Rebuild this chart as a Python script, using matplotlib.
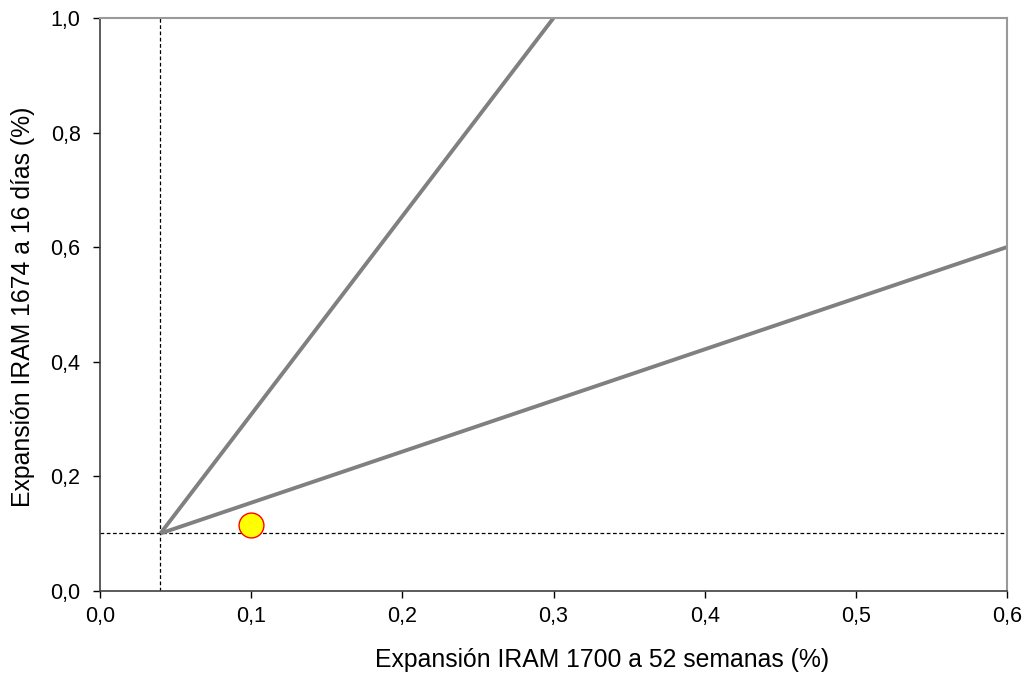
"""Expansión IRAM 1700 vs IRAM 1674 chart."""

import matplotlib

matplotlib.use("Agg")
import matplotlib.pyplot as plt
from matplotlib.ticker import FuncFormatter

plt.rcParams["font.family"] = ["Liberation Sans", "DejaVu Sans"]

# limit lines (x, y)
line_a_x = [0.04, 0.30]
line_a_y = [0.10, 1.00]
line_b_x = [0.04, 0.60]
line_b_y = [0.10, 0.60]

# reference thresholds
x_limit = 0.04
y_limit = 0.10

# measured sample
sample_x = [0.10]
sample_y = [0.115]

x_ticks = [0.0, 0.1, 0.2, 0.3, 0.4, 0.5, 0.6]
y_ticks = [0.0, 0.2, 0.4, 0.6, 0.8, 1.0]


def comma(v, _pos):
    return f"{v:.1f}".replace(".", ",")


fig = plt.figure(figsize=(10.27, 6.77), dpi=100)
ax = fig.add_axes([0.0974, 0.1275, 0.8831, 0.8459])

ax.axvline(x_limit, color="black", ls=(0, (3, 2)), lw=0.9, zorder=1)
ax.axhline(y_limit, color="black", ls=(0, (3, 2)), lw=0.9, zorder=1)

ax.plot(line_a_x, line_a_y, color="#808080", lw=2.8, solid_capstyle="butt", zorder=2)
ax.plot(line_b_x, line_b_y, color="#808080", lw=2.8, solid_capstyle="butt", zorder=2)

ax.scatter(sample_x, sample_y, s=320, color="#ffff00", edgecolor="#ff0000", lw=1.0, zorder=3)

ax.set_xlim(0, 0.6)
ax.set_ylim(0, 1.0)
ax.set_xticks(x_ticks)
ax.set_yticks(y_ticks)
ax.xaxis.set_major_formatter(FuncFormatter(comma))
ax.yaxis.set_major_formatter(FuncFormatter(comma))
ax.tick_params(direction="out", length=5, width=1, labelsize=15.5, colors="black")
ax.tick_params(axis="x", pad=6)
ax.tick_params(axis="y", pad=9)

for side in ("left", "bottom"):
    ax.spines[side].set_color("#404040")
    ax.spines[side].set_linewidth(1.2)
for side in ("top", "right"):
    ax.spines[side].set_color("#999999")
    ax.spines[side].set_linewidth(1.5)

# axis titles sit where the original put them (x title off-centre to the right)
fig.text(602 / 1027, 1 - 660 / 677, "Expansión IRAM 1700 a 52 semanas (%)",
         fontsize=17.8, ha="center", va="center")
fig.text(23 / 1027, 1 - 307 / 677, "Expansión IRAM 1674 a 16 días (%)",
         fontsize=17.8, ha="center", va="center", rotation=90)

fig.savefig("out.png", dpi=100)
